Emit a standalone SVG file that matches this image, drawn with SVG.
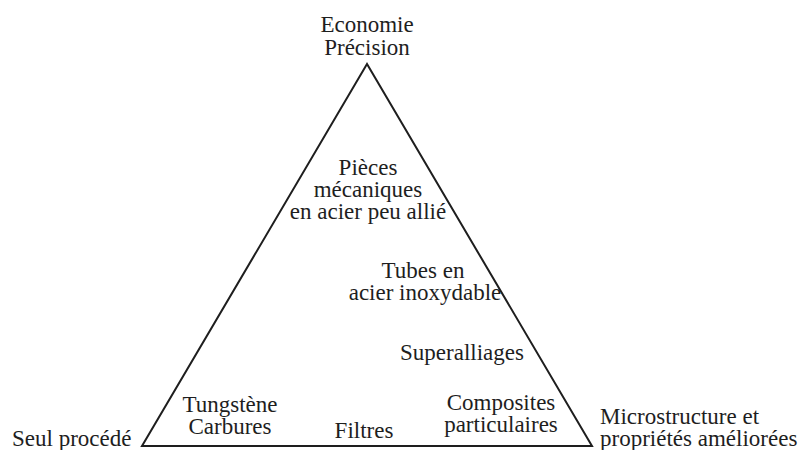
<svg xmlns="http://www.w3.org/2000/svg" width="806" height="450" viewBox="0 0 806 450">
  <style>
    text { font-family: 'Liberation Serif', 'DejaVu Serif', serif; font-size: 23px; fill: #1e1e1e; }
    .mid { text-anchor: middle; }
    .edge { fill: none; stroke: #1e1e1e; stroke-width: 2; stroke-linejoin: miter; }
  </style>
  <rect width="806" height="450" fill="#ffffff"/>

  <!-- triangle outline -->
  <g id="connectors">
    <polygon class="edge" points="367,64 142,446 592,446"/>
  </g>

  <!-- vertex labels -->
  <g id="top-vertex" font-family="Liberation Serif, DejaVu Serif, serif">
    <text class="mid" x="367" y="32">Economie</text>
    <text class="mid" x="367" y="55">Précision</text>
  </g>
  <g id="left-vertex" font-family="Liberation Serif, DejaVu Serif, serif">
    <text x="12" y="446">Seul procédé</text>
  </g>
  <g id="right-vertex" font-family="Liberation Serif, DejaVu Serif, serif">
    <text x="600" y="424">Microstructure et</text>
    <text x="600" y="446">propriétés améliorées</text>
  </g>

  <!-- applications inside the triangle -->
  <g id="pieces" font-family="Liberation Serif, DejaVu Serif, serif">
    <text class="mid" x="368" y="175">Pièces</text>
    <text class="mid" x="368" y="197">mécaniques</text>
    <text class="mid" x="368" y="219">en acier peu allié</text>
  </g>
  <g id="tubes" font-family="Liberation Serif, DejaVu Serif, serif">
    <text class="mid" x="423" y="278">Tubes en</text>
    <text class="mid" x="425" y="300">acier inoxydable</text>
  </g>
  <g id="superalliages" font-family="Liberation Serif, DejaVu Serif, serif">
    <text class="mid" x="462" y="360">Superalliages</text>
  </g>
  <g id="tungstene" font-family="Liberation Serif, DejaVu Serif, serif">
    <text class="mid" x="230" y="412">Tungstène</text>
    <text class="mid" x="230" y="434">Carbures</text>
  </g>
  <g id="filtres" font-family="Liberation Serif, DejaVu Serif, serif">
    <text class="mid" x="364" y="438">Filtres</text>
  </g>
  <g id="composites" font-family="Liberation Serif, DejaVu Serif, serif">
    <text class="mid" x="501" y="410">Composites</text>
    <text class="mid" x="501" y="432">particulaires</text>
  </g>
</svg>
